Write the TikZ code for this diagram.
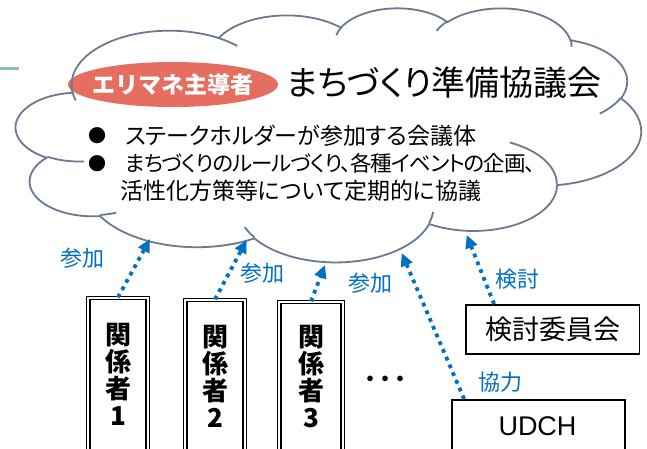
\documentclass[tikz,border=0pt]{standalone}
\usepackage{fontspec}
\usetikzlibrary{arrows.meta}
\setmainfont{Liberation Sans}
\newfontfamily\jp[RawFeature=+palt]{Noto Sans CJK JP}
\newfontfamily\jpm{Noto Sans CJK JP}
\definecolor{cloudline}{RGB}{107,122,143}
\definecolor{elred}{RGB}{229,110,97}
\definecolor{arrowblue}{RGB}{0,112,192}
\definecolor{greenln}{RGB}{140,192,170}
\tikzset{
  carc/.style n args={4}{
    /utils/exec={%
      \pgfmathsetmacro\CAtmpS{atan2((#1)*sin(#3),(#2)*cos(#3))}%
      \pgfmathsetmacro\CAtmpE{atan2((#1)*sin((#3)+(#4)),(#2)*cos((#3)+(#4)))}%
      \pgfmathsetmacro\CAtmpD{mod(\CAtmpE-(\CAtmpS)+720,360)}%
      \global\let\CAs\CAtmpS \global\let\CAd\CAtmpD},
    insert path={arc[x radius=#1, y radius=#2, start angle=\CAs, delta angle=\CAd]}
  },
  cloudstroke/.style={draw=cloudline, line width=1.8pt},
  stakebox/.style={draw=black, double=white, double distance=2pt, line width=1.3pt, inner sep=0pt},
  plainbox/.style={draw=black, line width=1.8pt, inner sep=0pt},
  stxt/.style={inner sep=0pt, align=center, font=\jpm\bfseries\fontsize{26pt}{27pt}\selectfont},
  bultxt/.style={inner sep=0pt, anchor=west, font=\jp\fontsize{23pt}{27pt}\selectfont},
  bulmark/.style={inner sep=0pt, font=\jpm\fontsize{18pt}{20pt}\selectfont},
  bluelbl/.style={inner sep=0pt, text=arrowblue, font=\jp\fontsize{22pt}{24pt}\selectfont},
  dotarrow/.style={draw=arrowblue, line width=3.8pt, dash pattern=on 3.8pt off 4.6pt,
    -{Triangle[length=13pt,width=12pt]}},
}
\newcommand\CloudOutline{(3.900,14.370)
  [carc={6.753}{9.190}{-190.487}{123.781}]
  [carc={5.333}{7.267}{-144.102}{89.945}]
  [carc={4.365}{5.945}{-145.808}{99.723}]
  [carc={4.857}{6.595}{-130.986}{117.242}]
  [carc={5.333}{7.273}{-78.709}{109.027}]
  [carc={6.775}{9.220}{-46.267}{130.269}]
  [carc={5.785}{7.867}{0.625}{114.033}]
  [carc={6.752}{9.215}{22.452}{115.173}]
  [carc={7.720}{10.543}{66.243}{75.711}]
  [carc={4.360}{5.918}{-274.942}{146.736}]
  [carc={4.345}{5.945}{-246.829}{152.519}] -- cycle}
\begin{document}
\begin{tikzpicture}[x=1pt,y=-1pt]
\useasboundingbox (0,0) rectangle (647,448);
\clip (0,0) rectangle (647,448);
\fill[white] (0,0) rectangle (647,448);
% green fragment
\draw[greenln, line width=3pt] (0,68) -- (19,68);
% cloud fill
\begin{scope}[shift={(16,7.5)}, xscale=14.4676, yscale=5.8796]
  \fill[white] \CloudOutline;
\end{scope}
% red ellipse
\fill[elred] (173,84.5) ellipse [x radius=105, y radius=22.5];
% cloud outline and inner strokes
\begin{scope}[shift={(16,7.5)}, xscale=14.4676, yscale=5.8796]
  \draw[cloudstroke, line join=round] \CloudOutline;
  \draw[cloudstroke]
    (4.693,26.177) [carc={4.345}{5.945}{86.742}{26.430}]
    (6.928,34.899) [carc={4.360}{5.918}{73.610}{11.447}]
    (16.478,39.090) [carc={6.752}{9.215}{137.624}{14.081}]
    (28.827,34.751) [carc={6.752}{9.215}{6.453}{15.998}]
    (34.129,22.954) [carc={5.785}{7.867}{-70.292}{70.917}]
    (41.798,15.354) [carc={5.333}{7.273}{30.318}{27.752}]
    (38.324,5.426) [carc={4.857}{6.595}{-13.744}{14.859}]
    (29.078,3.952) [carc={4.857}{6.595}{-149.181}{18.195}]
    (22.141,4.720) [carc={4.365}{5.945}{-163.494}{17.686}]
    (14.000,5.192) [carc={6.753}{9.190}{-66.707}{12.319}]
    (4.127,15.789) [carc={6.753}{9.190}{157.654}{11.858}];
\end{scope}
% texts in cloud
\node[inner sep=0pt, text=white, font=\jpm\bfseries\fontsize{23pt}{25pt}\selectfont] (lead) at (172.5,85) {エリマネ主導者};
\node[inner sep=0pt, font=\jp\fontsize{34pt}{36pt}\selectfont] (title) at (444,82.5) {まちづくり準備協議会};
\node[bulmark] (m1) at (97,136) {●};
\node[bulmark] (m2) at (97,163.5) {●};
\node[bultxt] (l1) at (125,136) {ステークホルダーが参加する会議体};
\node[bultxt, font=\jp\fontsize{21.5pt}{27pt}\selectfont] (l2) at (125,163.5) {\addfontfeature{LetterSpace=-4.5}まちづくりのルールづくり、各種イベントの企画、};
\node[bultxt] (l3) at (120,191) {活性化方策等について定期的に協議};
% stakeholder boxes
\node[stakebox, minimum width=59.4pt, minimum height=200pt, anchor=north] (b1) at (118,297.3) {};
\node[stakebox, minimum width=59.4pt, minimum height=200pt, anchor=north] (b2) at (215,299.3) {};
\node[stakebox, minimum width=63.4pt, minimum height=200pt, anchor=north] (b3) at (311,301.3) {};
\node[stxt, anchor=north] (t1) at (118,323) {関\\係\\者\\1};
\node[stxt, anchor=north] (t2) at (215,325) {関\\係\\者\\2};
\node[stxt, anchor=north] (t3) at (311,325) {関\\係\\者\\3};
\node[inner sep=0pt, font=\jpm\bfseries\fontsize{20pt}{20pt}\selectfont] (dots) at (385,381) {・\kern-5pt・\kern-5pt・};
% right boxes
\node[plainbox, minimum width=173.5pt, minimum height=49pt, font=\jpm\fontsize{27pt}{29pt}\selectfont] (kento) at (552.7,329.5) {検討委員会};
\node[plainbox, minimum width=173pt, minimum height=80pt, anchor=north] (udch) at (538.5,399) {};
\node[inner sep=0pt, font=\fontsize{27pt}{29pt}\selectfont] (udcht) at (537.5,426) {UDCH};
% arrow tips near the cloud
\coordinate (c1) at (150,239);
\coordinate (c2) at (246.7,240);
\coordinate (c3) at (325,265);
\coordinate (c4) at (401.7,253);
\coordinate (c5) at (466.7,235);
\draw[dotarrow] (b1.north) -- (c1);
\draw[dotarrow] (b2.north) -- (c2);
\draw[dotarrow] (b3.north) -- (c3);
\draw[dotarrow] ([xshift=13pt]udch.north west) -- (c4);
\draw[dotarrow] ([xshift=29pt]kento.north west) -- (c5);
% labels
\node[bluelbl] (p1) at (82.5,258) {参加};
\node[bluelbl] (p2) at (262.5,273) {参加};
\node[bluelbl] (p3) at (370.5,283) {参加};
\node[bluelbl] (k1) at (500,382) {協力};
\node[bluelbl] (k2) at (517.5,279) {検討};
\end{tikzpicture}
\end{document}
